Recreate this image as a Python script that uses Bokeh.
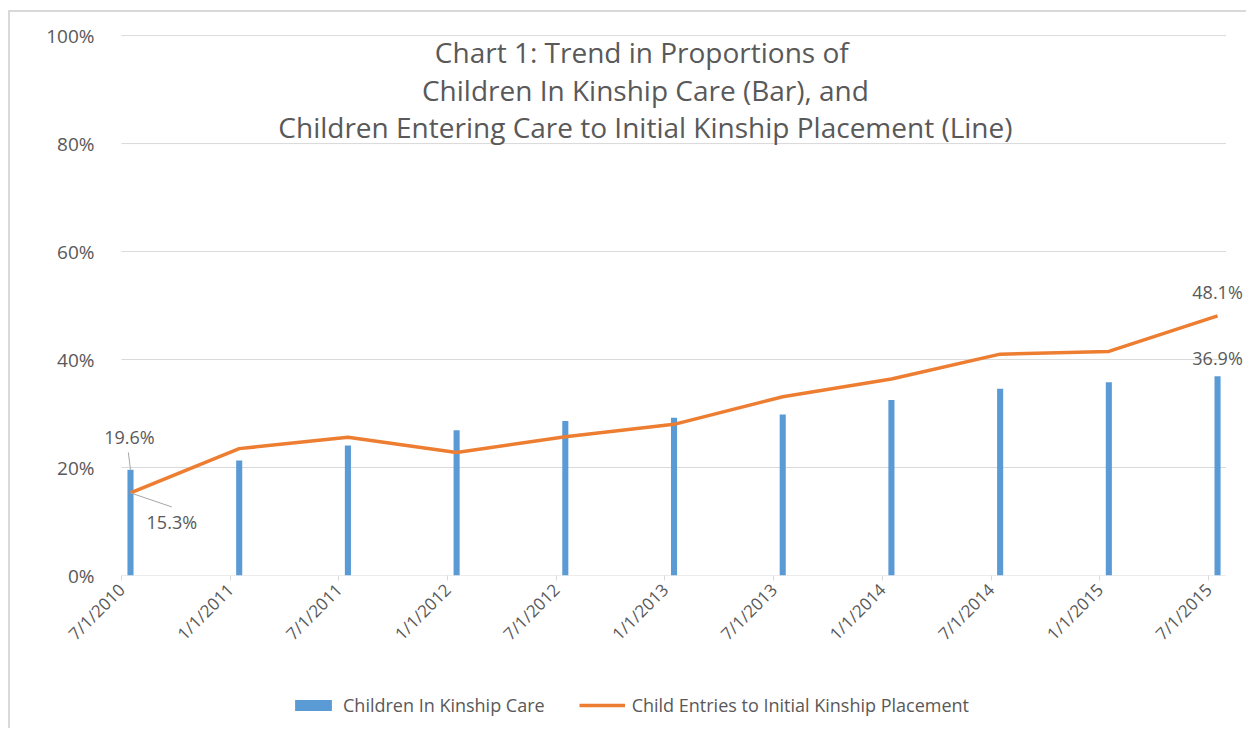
import math
from bokeh.plotting import figure
from bokeh.layouts import column
from bokeh.models import ColumnDataSource, Range1d, FixedTicker, Label, Legend, LegendItem
from bokeh.transform import dodge
from bokeh.embed import file_html
from bokeh.resources import INLINE

# ---- data ----
dates = ["7/1/2010", "1/1/2011", "7/1/2011", "1/1/2012", "7/1/2012", "1/1/2013",
         "7/1/2013", "1/1/2014", "7/1/2014", "1/1/2015", "7/1/2015"]
kinship_care = [19.6, 21.3, 24.1, 26.9, 28.6, 29.2, 29.8, 32.5, 34.6, 35.8, 36.9]
initial_kinship = [15.3, 23.5, 25.6, 22.8, 25.7, 28.0, 33.1, 36.4, 41.0, 41.5, 48.1]
y_ticks = [0, 20, 40, 60, 80, 100]
title_lines = ["Chart 1:  Trend in Proportions of",
               "Children In Kinship Care (Bar), and",
               "Children Entering Care to Initial Kinship Placement (Line)"]
series_names = ["Children In Kinship Care", "Child Entries to Initial Kinship Placement"]

FONT = "Open Sans"
GRAY = "#595959"
GRID = "#d9d9d9"
BLUE = "#5B9BD5"
ORANGE = "#ED7D31"
OFF = 0.083        # bar offset from its tick (category units)
X_END = 10.16      # right end of the drawn axis / gridlines

idx = list(range(len(dates)))
src = ColumnDataSource(dict(x=idx, kin=kinship_care, init=initial_kinship))

W, H = 1236, 668
p = figure(width=W, height=H, output_backend="svg", toolbar_location=None,
           x_range=Range1d(-0.193, 10.331), y_range=Range1d(0, 100.2),
           min_border_left=90, min_border_right=2, min_border_top=22,
           min_border_bottom=H - 563)
p.outline_line_color = None
p.background_fill_color = "white"

# gridlines limited to the plot area
p.xgrid.grid_line_color = None
p.ygrid.grid_line_color = None
p.segment(x0=[0] * len(y_ticks), y0=y_ticks, x1=[X_END] * len(y_ticks), y1=y_ticks,
          line_color=GRID, line_width=1)

bars = p.vbar(x=dodge("x", OFF, range=p.x_range), top="kin", width=0.056, source=src,
              fill_color=BLUE, line_color=None)
line = p.line(x=dodge("x", OFF, range=p.x_range), y="init", source=src,
              line_color=ORANGE, line_width=3.5, line_join="round")

# axes
p.xaxis.ticker = FixedTicker(ticks=idx)
p.xaxis.major_label_overrides = {i: d for i, d in zip(idx, dates)}
p.xaxis.major_label_orientation = math.pi / 4
p.xaxis.axis_line_color = None
p.xaxis.major_tick_line_color = GRID
p.xaxis.major_tick_out = 5
p.xaxis.major_tick_in = 0
p.xaxis.minor_tick_line_color = None
p.xaxis.major_label_text_font = FONT
p.xaxis.major_label_text_font_size = "17px"
p.xaxis.major_label_text_color = GRAY
p.xaxis.major_label_standoff = 6

p.yaxis.ticker = FixedTicker(ticks=y_ticks)
p.yaxis.major_label_overrides = {t: f"{t}%" for t in y_ticks}
p.yaxis.axis_line_color = None
p.yaxis.major_tick_line_color = None
p.yaxis.minor_tick_line_color = None
p.yaxis.major_label_text_font = FONT
p.yaxis.major_label_text_font_size = "19px"
p.yaxis.major_label_text_color = GRAY
p.yaxis.major_label_standoff = 0

# title inside plot
for t, yy in zip(title_lines, [96.9, 90.0, 83.1]):
    p.add_layout(Label(x=4.82, y=yy, text=t, text_align="center", text_baseline="middle",
                       text_font=FONT, text_font_size="28px", text_color=GRAY))

# data labels with leader lines
first_x = idx[0] + OFF
last_x = idx[-1] + OFF
p.segment(x0=[first_x - 0.02], y0=[kinship_care[0] + 3.2], x1=[first_x], y1=[kinship_care[0]],
          line_color="#a6a6a6", line_width=1)
p.segment(x0=[first_x], y0=[initial_kinship[0]], x1=[first_x + 0.38], y1=[initial_kinship[0] - 2.6],
          line_color="#a6a6a6", line_width=1)
lab_specs = [
    (first_x - 0.01, kinship_care[0] + 6.0, kinship_care[0]),
    (first_x + 0.38, initial_kinship[0] - 5.3, initial_kinship[0]),
    (last_x, initial_kinship[-1] + 4.5, initial_kinship[-1]),
    (last_x, kinship_care[-1] + 3.3, kinship_care[-1]),
]
for lx, ly, v in lab_specs:
    p.add_layout(Label(x=lx, y=ly, text=f"{v:.1f}%", text_align="center", text_baseline="middle",
                       text_font=FONT, text_font_size="18px", text_color=GRAY))

# ---- legend strip below the chart (its own glyphs are out of view) ----
LH = 48
lf = figure(width=W, height=LH, output_backend="svg", toolbar_location=None,
            x_range=Range1d(1000, 1001), y_range=Range1d(1000, 1001),
            x_axis_type=None, y_axis_type=None, min_border=0)
lf.outline_line_color = None
lf.xgrid.grid_line_color = None
lf.ygrid.grid_line_color = None
lb = lf.vbar(x="x", top="kin", width=0.1, source=src, fill_color=BLUE, line_color=None)
ll = lf.line(x="x", y="init", source=src, line_color=ORANGE, line_width=3.5)
legend = Legend(items=[LegendItem(label=series_names[0], renderers=[lb]),
                       LegendItem(label=series_names[1], renderers=[ll])],
                orientation="horizontal", location=(190, 11),
                label_text_font=FONT, label_text_font_size="18px", label_text_color=GRAY,
                glyph_width=46, glyph_height=14, spacing=34, label_standoff=7,
                border_line_color=None, background_fill_alpha=0, margin=0, padding=0)
lf.add_layout(legend)

layout = column(p, lf, spacing=0)
layout.styles = {"margin-left": "8px", "margin-top": "10px",
                 "border-left": "2px solid #d9d9d9", "border-top": "2px solid #d9d9d9"}

open("out.html", "w").write(file_html(layout, INLINE))
